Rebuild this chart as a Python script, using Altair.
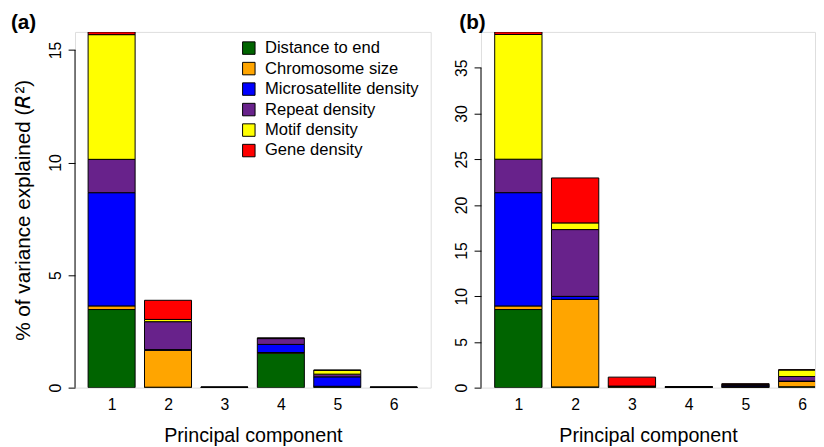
import altair as alt
import pandas as pd

components = [1, 2, 3, 4, 5, 6]
variables = ["Distance to end", "Chromosome size", "Microsatellite density",
             "Repeat density", "Motif density", "Gene density"]
colors = ["#006400", "#FFA500", "#0000FF", "#68228B", "#FFFF00", "#FF0000"]

# Panel (a): % of variance explained by each variable, per principal component
a_distance = [3.47, 0.02, 0.005, 1.53, 0.03, 0.005]
a_chrom = [0.16, 1.64, 0.003, 0.03, 0.03, 0.003]
a_micro = [5.03, 0.03, 0.004, 0.36, 0.42, 0.004]
a_repeat = [1.48, 1.24, 0.003, 0.26, 0.12, 0.003]
a_motif = [5.54, 0.10, 0.002, 0.01, 0.17, 0.002]
a_gene = [0.12, 0.85, 0.003, 0.02, 0.01, 0.003]

# Panel (b)
b_distance = [8.55, 0.08, 0.05, 0.03, 0.05, 0.10]
b_chrom = [0.39, 9.58, 0.09, 0.02, 0.03, 0.58]
b_micro = [12.40, 0.33, 0.01, 0.02, 0.10, 0.04]
b_repeat = [3.66, 7.31, 0.01, 0.01, 0.10, 0.50]
b_motif = [13.65, 0.73, 0.01, 0.01, 0.08, 0.72]
b_gene = [0.28, 4.92, 0.98, 0.01, 0.07, 0.01]

a_ticks = [0, 5, 10, 15]
b_ticks = [0, 5, 10, 15, 20, 25, 30, 35]

FONT = "Liberation Sans"


def build_df(series):
    rows = []
    for i, comp in enumerate(components):
        base = 0.0
        for k, var in enumerate(variables):
            v = series[k][i]
            rows.append({
                "component": comp,
                "variable": var,
                "order": k,
                "x0": i * 1.2 + 0.2,
                "x1": i * 1.2 + 1.2,
                "y0": base,
                "y1": base + v,
            })
            base += v
    return pd.DataFrame(rows)


df_a = build_df([a_distance, a_chrom, a_micro, a_repeat, a_motif, a_gene])
df_b = build_df([b_distance, b_chrom, b_micro, b_repeat, b_motif, b_gene])
centers = [i * 1.2 + 0.7 for i in range(len(components))]


def panel(df, ticks, ymax, xdomain, width, label, show_title, legend):
    xscale = alt.Scale(domain=xdomain, nice=False, zero=False)
    yscale = alt.Scale(domain=[0, ymax], nice=False, zero=True)
    xaxis = alt.Axis(values=centers, labelExpr="'' + round((datum.value + 0.5) / 1.2)",
                     domain=False, ticks=False, grid=False, labelFontSize=16,
                     labelPadding=9, title="Principal component", titleFontSize=20,
                     titleFontWeight="normal", titlePadding=14, labelColor="black",
                     titleColor="black", labelFont=FONT, titleFont=FONT)
    yaxis = alt.Axis(values=ticks, domain=False, grid=False, tickSize=7, tickColor="black",
                     labelAngle=270, labelAlign="center", labelBaseline="alphabetic",
                     labelPadding=8, labelFontSize=16, labelColor="black",
                     title="% of variance explained (𝘙²)" if show_title else "",
                     titleFontSize=21, titleFontWeight="normal", titleColor="black",
                     titlePadding=14, labelFont=FONT, titleFont=FONT)
    color = alt.Color("variable:N",
                      scale=alt.Scale(domain=variables, range=colors),
                      legend=legend)
    bars = alt.Chart(df).mark_bar(stroke="black", strokeWidth=1, clip=True).encode(
        x=alt.X("x0:Q", scale=xscale, axis=xaxis),
        x2="x1:Q",
        y=alt.Y("y0:Q", scale=yscale, axis=yaxis),
        y2="y1:Q",
        color=color,
        order=alt.Order("order:Q"),
    )
    axis_line = alt.Chart(pd.DataFrame({"lo": [min(ticks)], "hi": [max(ticks)]})).mark_rule(
        color="black", strokeWidth=1).encode(
        x=alt.value(0), y=alt.Y("lo:Q", scale=yscale), y2="hi:Q")
    lab = alt.Chart(pd.DataFrame({"t": [label]})).mark_text(
        font=FONT, fontSize=21, fontWeight="bold", align="left", baseline="middle",
        color="black").encode(text="t:N", x=alt.value(-65 if show_title else -22),
                              y=alt.value(-9))
    return alt.layer(bars, axis_line, lab).properties(width=width, height=361)


legend_a = alt.Legend(orient="none", legendX=168, legendY=8, title=None,
                      labelFontSize=16.8, labelFont=FONT, labelColor="black",
                      symbolType="square", symbolSize=160, symbolStrokeColor="black",
                      symbolStrokeWidth=1, rowPadding=2.8, padding=0, labelOffset=8)

pa = panel(df_a, a_ticks, 15.8, [-0.0785, 7.488], 361, "(a)", True, legend_a)
pb = panel(df_b, b_ticks, 38.93, [-0.09, 6.97], 339, "(b)", False, None)

chart = alt.hconcat(pa, pb, spacing=21).resolve_scale(color="independent").properties(
    padding={"left": 2, "top": 0, "right": 0, "bottom": 0}
).configure_view(stroke="transparent", strokeWidth=0, strokeOpacity=0).configure(font=FONT)

chart.save("out.html", embed_options={"renderer": "svg", "actions": False})
